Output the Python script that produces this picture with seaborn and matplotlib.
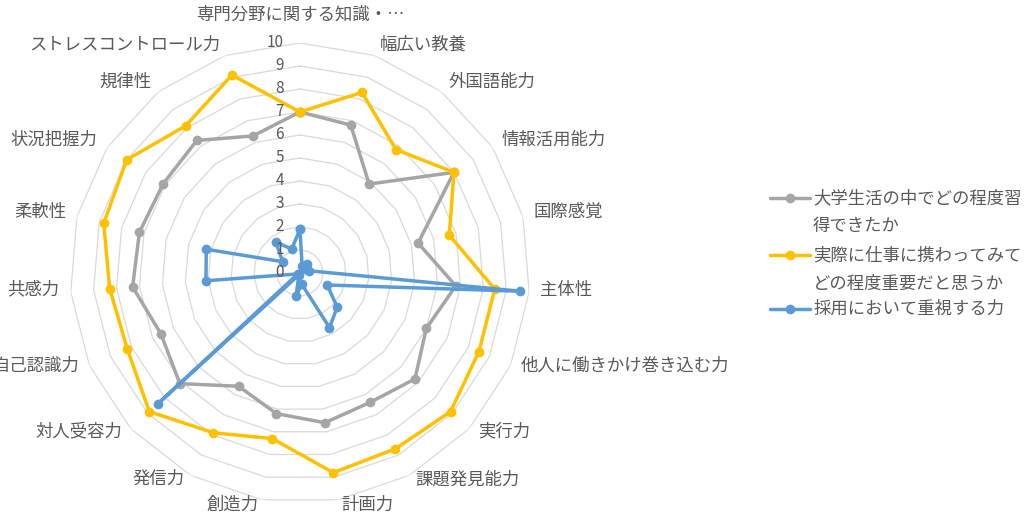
import numpy as np
import pandas as pd
import matplotlib
matplotlib.use("Agg")
import matplotlib.pyplot as plt
from matplotlib.lines import Line2D
import seaborn as sns

# Skill categories, clockwise from the top
categories = [
    "専門分野に関する知識・…", "幅広い教養", "外国語能力", "情報活用能力", "国際感覚",
    "主体性", "他人に働きかけ巻き込む力", "実行力", "課題発見能力", "計画力",
    "創造力", "発信力", "対人受容力", "自己認識力", "共感力",
    "柔軟性", "状況把握力", "規律性", "ストレスコントロール力",
]

# Series values (0-10 scale)
acquired = [7.0, 6.8, 4.9, 8.0, 5.3, 6.8, 6.0, 6.8, 6.4, 6.6,
            6.2, 5.6, 7.1, 6.6, 7.3, 7.2, 7.1, 7.3, 6.3]
importance = [7.0, 8.3, 6.8, 8.0, 6.7, 8.5, 8.5, 8.9, 8.7, 8.8,
              7.3, 7.9, 8.9, 8.2, 8.3, 8.8, 9.0, 8.1, 9.1]
hiring = [1.9, 0.3, 0.5, 0.3, 0.4, 9.6, 1.3, 2.2, 2.7, 0.5,
          1.0, 0.1, 8.4, 0.1, 4.1, 4.2, 0.9, 1.7, 1.1]

series_names = [
    "大学生活の中でどの程度習\n得できたか",
    "実際に仕事に携わってみて\nどの程度重要だと思うか",
    "採用において重視する力",
]
series_colors = ["#A5A5A5", "#FFC000", "#5B9BD5"]
r_ticks = list(range(0, 11))

sns.set_style("white")
plt.rcParams["font.family"] = ["Noto Sans CJK JP", "DejaVu Sans"]
text_color = "#595959"

W, H = 1027, 518
fig = plt.figure(figsize=(W / 100, H / 100), dpi=100)
ax = fig.add_axes([0.0681, 0.029, 0.4479, 0.888], projection="polar")
ax.set_theta_zero_location("N")
ax.set_theta_direction(-1)

n = len(categories)
theta = np.arange(n) * 2 * np.pi / n
theta_closed = np.append(theta, 2 * np.pi)

# polygonal grid rings
for r in r_ticks[1:]:
    ax.plot(theta_closed, [r] * (n + 1), color="#D9D9D9", lw=0.9, zorder=1)

for vals, color in zip([acquired, importance, hiring], series_colors):
    df = pd.DataFrame({"theta": theta_closed, "value": list(vals) + [vals[0]]})
    sns.lineplot(data=df, x="theta", y="value", sort=False, estimator=None,
                 ax=ax, color=color, linewidth=2.5, marker="o",
                 markersize=7, markeredgewidth=0, zorder=3)

ax.set_ylim(0, 10)
ax.grid(False)
ax.spines["polar"].set_visible(False)
ax.set_xticks([])
ax.set_yticks([])
ax.set_xlabel("")
ax.set_ylabel("")
ax.set_facecolor("none")

px = 0.72  # points per pixel at 100 dpi

# value axis labels
for r in r_ticks:
    ax.annotate(str(r), xy=(0, r), xycoords="data", xytext=(-16 * px, 0),
                textcoords="offset points", ha="right", va="center",
                fontsize=11, color=text_color, zorder=4)

# category labels
for i, (t, lab) in enumerate(zip(theta, categories)):
    s, c = np.sin(t), np.cos(t)
    if i == 0:
        ha, dx, dy = "center", 0, -28
    else:
        ha = "left" if s > 0 else "right"
        dx = (2 + 9 * abs(s)) * (1 if s > 0 else -1)
        dy = -3 - 8 * c
    ax.annotate(lab, xy=(t, 10), xycoords="data", xytext=(dx * px, -dy * px),
                textcoords="offset points", ha=ha, va="center",
                fontsize=12.5, color=text_color, annotation_clip=False)

# legend
legend_rows = [198, 255, 308.5]
line_gap = 28.5
for name, color, y in zip(series_names, series_colors, legend_rows):
    yf = 1 - y / H
    fig.add_artist(Line2D([770 / W, 810 / W], [yf, yf], transform=fig.transFigure,
                          color=color, lw=2.5))
    fig.add_artist(Line2D([790 / W], [yf], transform=fig.transFigure,
                          color=color, marker="o", markersize=7, markeredgewidth=0))
    for k, part in enumerate(name.split("\n")):
        fig.text(813 / W, 1 - (y + k * line_gap) / H, part, ha="left", va="center",
                 fontsize=12.5, color=text_color)

fig.savefig("out.png", dpi=100)
